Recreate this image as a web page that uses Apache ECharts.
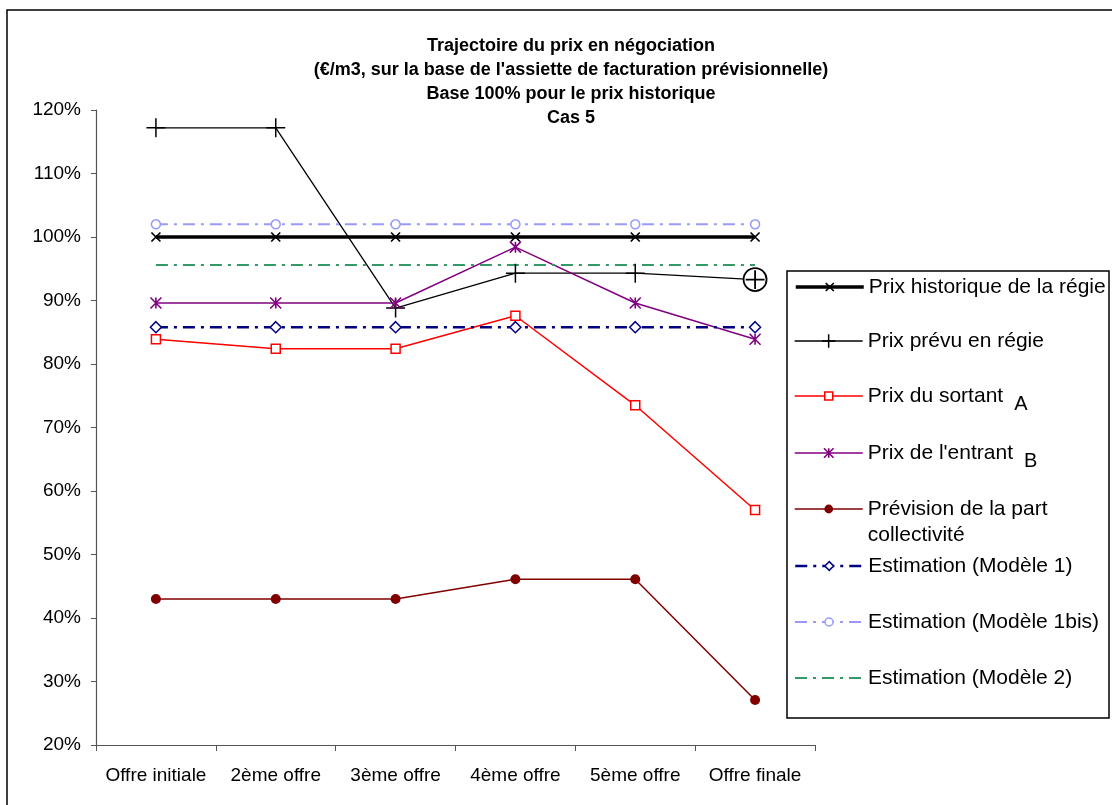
<!DOCTYPE html>
<html>
<head>
<meta charset="utf-8">
<script src="https://cdn.jsdelivr.net/npm/echarts@6/dist/echarts.min.js"></script>
<style>html,body{margin:0;padding:0;background:#fff;}#c{width:1112px;height:805px;}</style>
</head>
<body>
<div id="c"></div>
<script>
// ---- data ----
var categories = ['Offre initiale', '2ème offre', '3ème offre', '4ème offre', '5ème offre', 'Offre finale'];
var yTicks = [20, 30, 40, 50, 60, 70, 80, 90, 100, 110, 120];
var historique = [100, 100, 100, 100, 100, 100];
var prevuRegie = [117.2, 117.2, 88.8, 94.3, 94.3, 93.3];
var sortant = [83.9, 82.4, 82.4, 87.6, 73.5, 57.0];
var entrant = [89.6, 89.6, 89.6, 98.4, 89.6, 83.9];
var collectivite = [43.0, 43.0, 43.0, 46.1, 46.1, 27.1];
var modele1 = [85.8, 85.8, 85.8, 85.8, 85.8, 85.8];
var modele1bis = [102.0, 102.0, 102.0, 102.0, 102.0, 102.0];
var modele2 = [95.6, 95.6, 95.6, 95.6, 95.6, 95.6];
var names = ['Prix historique de la régie', 'Prix prévu en régie', 'Prix du sortant', "Prix de l'entrant",
  'Prévision de la part collectivité', 'Estimation (Modèle 1)', 'Estimation (Modèle 1bis)', 'Estimation (Modèle 2)'];
var titleLines = ['Trajectoire du prix en négociation',
  "(€/m3, sur la base de l'assiette de facturation prévisionnelle)",
  'Base 100% pour le prix historique', 'Cas 5'];

var FONT = "'Liberation Sans', Arial, sans-serif";
var X_PATH = 'path://M0,0L10,10M10,0L0,10';
var PLUS_PATH = 'path://M0,5L10,5M5,0L5,10';
var AST_PATH = 'path://M0,0L10,10M10,0L0,10M5,0L5,10';
var CIRCLE_PLUS = 'path://M22,11A11,11,0,1,1,0,11A11,11,0,1,1,22,11ZM11,2L11,20M2,11L20,11';
var DASHDOT = [12, 6, 3, 6];

var prevuData = prevuRegie.map(function (v, i) {
  if (i === prevuRegie.length - 1) {
    return { value: v, symbol: CIRCLE_PLUS, symbolSize: 23,
      itemStyle: { color: '#fff', borderColor: '#000', borderWidth: 1.8 } };
  }
  return v;
});

var series = [
  { name: names[0], data: historique, color: '#000', lineStyle: { color: '#000', width: 3.5 },
    symbol: X_PATH, symbolSize: 9, itemStyle: { color: '#000', borderColor: '#000', borderWidth: 1.7 } },
  { name: names[1], data: prevuData, color: '#000', lineStyle: { color: '#000', width: 1.3 },
    symbol: PLUS_PATH, symbolSize: 19, itemStyle: { color: '#000', borderColor: '#000', borderWidth: 1.5 } },
  { name: names[2], data: sortant, color: '#ff0000', lineStyle: { color: '#ff0000', width: 1.5 },
    symbol: 'rect', symbolSize: 9, itemStyle: { color: '#fff', borderColor: '#ff0000', borderWidth: 1.5 } },
  { name: names[3], data: entrant, color: '#800080', lineStyle: { color: '#800080', width: 1.5 },
    symbol: AST_PATH, symbolSize: 11, itemStyle: { color: '#800080', borderColor: '#800080', borderWidth: 1.6 } },
  { name: names[4], data: collectivite, color: '#800000', lineStyle: { color: '#800000', width: 1.5 },
    symbol: 'circle', symbolSize: 10, itemStyle: { color: '#800000', borderColor: '#800000', borderWidth: 0 } },
  { name: names[5], data: modele1, color: '#000080', lineStyle: { color: '#000080', width: 2.5, type: DASHDOT },
    symbol: 'diamond', symbolSize: 11, itemStyle: { color: '#fff', borderColor: '#000080', borderWidth: 1.5 } },
  { name: names[6], data: modele1bis, color: '#9999ff', lineStyle: { color: '#9999ff', width: 2, type: DASHDOT },
    symbol: 'circle', symbolSize: 9, itemStyle: { color: '#fff', borderColor: '#9999ff', borderWidth: 1.5 } },
  { name: names[7], data: modele2, color: '#339966', lineStyle: { color: '#339966', width: 2, type: DASHDOT },
    symbol: 'none' }
].map(function (s) {
  s.type = 'line';
  s.showSymbol = s.symbol !== 'none';
  s.showAllSymbol = true;
  s.animation = false;
  s.emphasis = { disabled: true };
  return s;
});

// legend layout: one legend component per entry so spacing follows the reference
var legendCenters = [287, 341, 398, 455, 509, 566, 622, 678];
var legendIconH = [10, 17, 10, 12, 11, 11, 10, 10];
var legendTextStyle = { fontFamily: FONT, fontSize: 21, color: '#000', lineHeight: 24 };
var legends = names.map(function (n, i) {
  var s = series[i];
  var blockH = 24;
  var lg = {
    data: [n], orient: 'vertical', left: 794, padding: 0,
    itemWidth: 68, itemHeight: legendIconH[i], selectedMode: false,
    textStyle: Object.assign({}, legendTextStyle),
    lineStyle: { color: s.lineStyle.color, width: s.lineStyle.width, type: s.lineStyle.type || 'solid' },
    itemStyle: s.itemStyle ? Object.assign({}, s.itemStyle) : { opacity: 0 }
  };
  if (i === 2 || i === 3) {
    var sub = i === 2 ? 'A' : 'B';
    lg.formatter = function (name) { return '{n|' + name + '}{s|' + sub + '}'; };
    lg.textStyle.rich = {
      n: { fontFamily: FONT, fontSize: 21, lineHeight: 24, color: '#000' },
      s: { fontFamily: FONT, fontSize: 20, lineHeight: 24, color: '#000', padding: [16, 0, 0, 11] }
    };
    blockH = 40;
  }
  if (i === 4) {
    lg.formatter = function () { return '\u00a0\nPrévision de la part\ncollectivité'; };
    lg.textStyle.lineHeight = 26;
    blockH = 78;
  }
  lg.top = legendCenters[i] - blockH / 2;
  return lg;
});

var chart = echarts.init(document.getElementById('c'), null, { renderer: 'canvas' });
chart.setOption({
  animation: false,
  backgroundColor: '#fff',
  textStyle: { fontFamily: FONT },
  title: {
    text: titleLines.join('\n'),
    left: 566, top: 29, textAlign: 'center',
    textStyle: { fontFamily: FONT, fontSize: 18, fontWeight: 'bold', color: '#000', lineHeight: 24 }
  },
  grid: { left: 96, right: 297, top: 110, bottom: 60, containLabel: false },
  xAxis: {
    type: 'category', data: categories, boundaryGap: true,
    axisLine: { lineStyle: { color: '#555', width: 1.2 } },
    axisTick: { show: true, length: 6, alignWithLabel: false, lineStyle: { color: '#555' } },
    axisLabel: { fontFamily: FONT, fontSize: 19, color: '#000', margin: 21, interval: 0 },
    splitLine: { show: false }
  },
  yAxis: {
    type: 'value', min: yTicks[0], max: yTicks[yTicks.length - 1], interval: yTicks[1] - yTicks[0],
    axisLine: { show: true, lineStyle: { color: '#555', width: 1.2 } },
    axisTick: { show: true, length: 5, lineStyle: { color: '#555' } },
    axisLabel: { fontFamily: FONT, fontSize: 19, color: '#000', margin: 15, formatter: '{value}%' },
    splitLine: { show: false }
  },
  legend: legends,
  graphic: [
    { type: 'rect', silent: true, z: -1, shape: { x: 7, y: 10, width: 1300, height: 1000 },
      style: { fill: 'none', stroke: '#000', lineWidth: 1.5 } },
    { type: 'rect', silent: true, z: -1, shape: { x: 787, y: 271, width: 322, height: 447 },
      style: { fill: 'none', stroke: '#000', lineWidth: 1.5 } }
  ],
  series: series
});
</script>
</body>
</html>
